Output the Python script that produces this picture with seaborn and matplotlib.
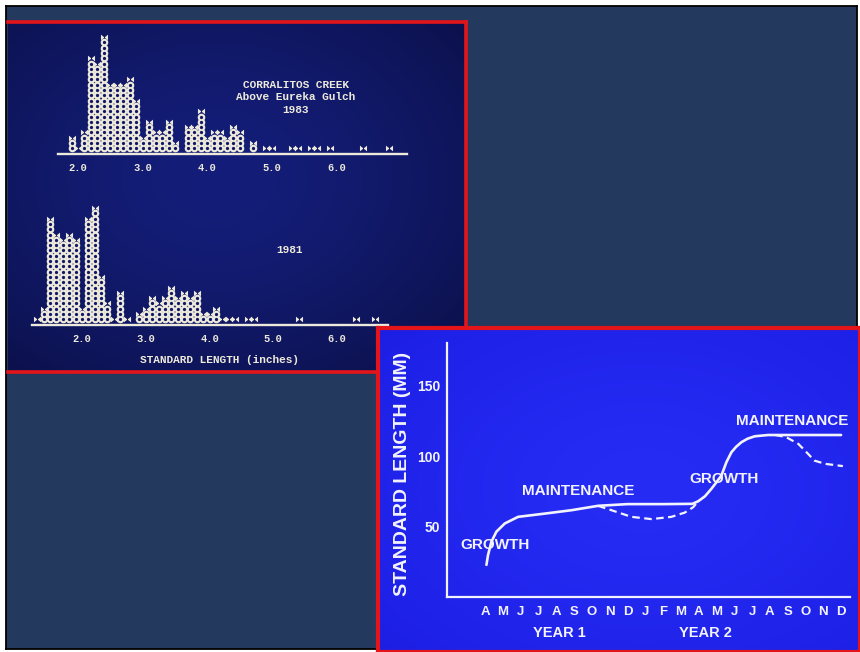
import numpy as np
import pandas as pd
import matplotlib
matplotlib.use("Agg")
import matplotlib.pyplot as plt
from matplotlib.path import Path
from matplotlib.colors import to_rgb
import seaborn as sns

sns.set_style("white")
plt.rcParams["font.family"] = ["Liberation Sans", "DejaVu Sans"]

# ---- histogram data (standard length, inches; one column per 0.1 inch) ----
bin_width = 0.1
start_1983 = 1.9
counts_1983 = [3, 1, 4, 18, 17, 22, 13, 13, 13, 14, 10, 3, 6, 4, 4, 6, 2, 0,
               5, 5, 8, 3, 4, 4, 3, 5, 4, 0, 2,
               0, 1, 1, 0, 0, 1, 1, 0, 1, 1, 0, 1, 0, 0, 0, 0, 1, 0, 0, 0, 1]
start_1981 = 1.3
counts_1981 = [1, 3, 20, 17, 16, 17, 16, 3, 20, 22, 9, 4, 1, 6, 1, 0,
               2, 3, 5, 4, 5, 7, 5, 6, 5, 6, 2, 2, 3, 1, 1, 1,
               0, 1, 1, 0, 0, 0, 0, 0, 0, 1, 0, 0, 0, 0, 0, 0, 0, 0, 1, 0, 0, 1]
hist_ticks = [2.0, 3.0, 4.0, 5.0, 6.0]
hist_tick_labels = ["2.0", "3.0", "4.0", "5.0", "6.0"]

# ---- growth / maintenance diagram ----
months = ["A", "M", "J", "J", "A", "S", "O", "N", "D",
          "J", "F", "M", "A", "M", "J", "J", "A", "S", "O", "N", "D"]
solid_x = [0.08, 0.17, 0.36, 0.64, 1.11, 1.86, 3.36, 4.86, 6.35, 8.0, 10.0,
           11.65, 11.97, 12.35, 12.72, 13.0, 13.28, 13.56, 13.84, 14.1, 14.4,
           14.75, 15.15, 15.9, 20.0]
solid_y = [23, 30, 39.4, 46.5, 52.3, 57, 59.3, 61.7, 64.8, 66, 66,
           66.2, 68, 71.5, 76.9, 81.5, 86.3, 95.7, 102.7, 106.5, 109.8,
           112.3, 114, 114.9, 114.9]
dash1_x = [6.35, 7.1, 8.22, 9.35, 10.47, 11.22, 11.69, 11.97]
dash1_y = [64.8, 61.7, 57, 55.4, 57, 60, 63.8, 68]
dash2_x = [16.3, 16.9, 17.6, 18.15, 18.5, 19.1, 20.1]
dash2_y = [114.9, 113.5, 108.6, 101.5, 96.8, 94.5, 92.9]
phase_labels = ["GROWTH", "MAINTENANCE", "GROWTH", "MAINTENANCE"]
phase_x = [0.59, 5.26, 13.45, 17.25]
phase_y = [37, 75.3, 84, 125]

W, H = 860, 652
CREAM = "#eeeadb"
NAVY = "#111866"
RED = "#e3151b"
INK = "#f3f3ff"
MONO = ["Liberation Mono", "DejaVu Sans Mono"]


def box(x0, y0, x1, y1):
    return [x0 / W, 1 - y1 / H, (x1 - x0) / W, (y1 - y0) / H]


def blank(ax):
    ax.set_xticks([])
    ax.set_yticks([])
    ax.set_xlim(0, 1)
    ax.set_ylim(0, 1)


def shade(ax, inner, outer, cx=0.5, cy=0.5):
    yy, xx = np.mgrid[0:1:120j, 0:1:120j]
    r = np.clip(np.hypot((xx - cx) / 0.75, (yy - cy) / 0.75), 0, 1)
    c0, c1 = np.array(to_rgb(inner)), np.array(to_rgb(outer))
    img = c0 + (c1 - c0) * r[..., None] ** 1.5
    ax.imshow(img, extent=(0, 1, 0, 1), aspect="auto", zorder=0)


def cells(start, counts):
    rows = []
    for i, c in enumerate(counts):
        x = round(start + i * bin_width, 2)
        for j in range(1, c + 1):
            rows.append((x, j, j == c))
    return pd.DataFrame(rows, columns=["length", "level", "top"])


bowtie = Path([(-1, -0.8), (-1, 0.8), (1, -0.8), (1, 0.8), (-1, -0.8)])

fig = plt.figure(figsize=(W / 100, H / 100), dpi=100, facecolor="white")

# backdrop with black frame
bg = fig.add_axes(box(6, 6, 857, 649))
blank(bg)
bg.set_facecolor("#23395d")
for s in bg.spines.values():
    s.set_color("black")
    s.set_linewidth(1.3)

# ---- top slide: two histograms ----
s1 = fig.add_axes(box(8, 22, 466, 372))
blank(s1)
shade(s1, "#141e7a", "#0b1048", cx=0.45, cy=0.45)
s1.spines["left"].set_visible(False)
for k in ["top", "right", "bottom"]:
    s1.spines[k].set_color(RED)
    s1.spines[k].set_linewidth(2.6)


def histogram(rect, xlim, ylim, start, counts, bounds):
    ax = fig.add_axes(rect)
    ax.set_facecolor("none")
    df = cells(start, counts)
    body = df[~df["top"]]
    tops = df[df["top"]]
    sns.scatterplot(data=body, x="length", y="level", marker="o", s=30,
                    color=CREAM, linewidth=0, legend=False, ax=ax)
    ax.scatter(body["length"], body["level"], s=5.5, color=NAVY, linewidths=0, zorder=3)
    sns.scatterplot(data=tops, x="length", y="level", marker=bowtie, s=26,
                    color=CREAM, linewidth=0, legend=False, ax=ax)
    ax.set_xlim(*xlim)
    ax.set_ylim(*ylim)
    for k in ["top", "right", "left"]:
        ax.spines[k].set_visible(False)
    ax.spines["bottom"].set_position(("data", -0.15))
    ax.spines["bottom"].set_bounds(*bounds)
    ax.spines["bottom"].set_color(CREAM)
    ax.spines["bottom"].set_linewidth(1.7)
    ax.set_yticks([])
    ax.set_xticks(hist_ticks)
    ax.set_xticklabels(hist_tick_labels, family=MONO, weight="bold", fontsize=7.5, color=CREAM)
    ax.tick_params(axis="x", length=0, pad=6)
    ax.set_xlabel("")
    ax.set_ylabel("")
    return ax


h83 = histogram(box(40, 25, 420, 165), (1.4127, 7.2859), (-2.14, 24.27),
                start_1983, counts_1983, (1.69, 7.085))
h83.text(5.37, 10.6, "CORRALITOS CREEK\nAbove Eureka Gulch\n1983", ha="center", va="center",
         family=MONO, weight="bold", fontsize=8, color=CREAM, linespacing=1.3)

h81 = histogram(box(20, 195, 410, 335), (1.0275, 7.145), (-1.953, 24.46),
                start_1981, counts_1981, (1.216, 6.80))
h81.text(5.25, 14.1, "1981", ha="center", va="center",
         family=MONO, weight="bold", fontsize=8, color=CREAM)
h81.text(4.15, -6.7, "STANDARD LENGTH (inches)", ha="center", va="center",
         family=MONO, weight="bold", fontsize=8, color=CREAM, clip_on=False)

# ---- bottom slide: growth curve ----
s2 = fig.add_axes(box(378, 328, 860, 652))
blank(s2)
shade(s2, "#262cf4", "#1c1ee4", cx=0.55, cy=0.5)
for s in s2.spines.values():
    s.set_color(RED)
    s.set_linewidth(3)

cx = fig.add_axes(box(447, 343, 850, 597.4))
cx.set_facecolor("none")
sns.lineplot(x=solid_x, y=solid_y, sort=False, estimator=None, color=INK, lw=1.9, ax=cx)
sns.lineplot(x=dash1_x, y=dash1_y, sort=False, estimator=None, color=INK, lw=1.6,
             ax=cx).lines[-1].set_dashes((3.4, 2.0))
sns.lineplot(x=dash2_x, y=dash2_y, sort=False, estimator=None, color=INK, lw=1.6,
             ax=cx).lines[-1].set_dashes((3.4, 2.0))
for lab, x, y in zip(phase_labels, phase_x, phase_y):
    cx.text(x, y, lab, ha="center", va="center", weight="bold", fontsize=11, color=INK)

cx.set_xlim(-2.135, 20.5)
cx.set_ylim(0, 180)
for k in ["top", "right"]:
    cx.spines[k].set_visible(False)
for k in ["left", "bottom"]:
    cx.spines[k].set_color(INK)
    cx.spines[k].set_linewidth(1.6)
cx.set_xticks(range(len(months)))
cx.set_xticklabels(months, weight="bold", fontsize=9.5, color=INK)
cx.set_xticks([8.41, 20.49], minor=True)
cx.tick_params(axis="x", which="major", length=0, pad=6)
cx.tick_params(axis="x", which="minor", length=9, width=1.6, color=INK, direction="out")
cx.set_yticks([50, 100, 150])
cx.set_yticklabels(["50", "100", "150"], weight="bold", fontsize=10, color=INK)
cx.tick_params(axis="y", length=4, width=1.5, color=INK, direction="out", pad=1)
cx.set_ylabel("STANDARD LENGTH (MM)", weight="bold", fontsize=14, color=INK)
cx.yaxis.set_label_coords(-0.09, 0.487)
cx.set_xlabel("")
cx.text(4.2, -25.5, "YEAR 1", ha="center", va="center", weight="bold", fontsize=10.5,
        color=INK, clip_on=False)
cx.text(12.4, -25.5, "YEAR 2", ha="center", va="center", weight="bold", fontsize=10.5,
        color=INK, clip_on=False)

fig.savefig("out.png", dpi=100, facecolor="white")
